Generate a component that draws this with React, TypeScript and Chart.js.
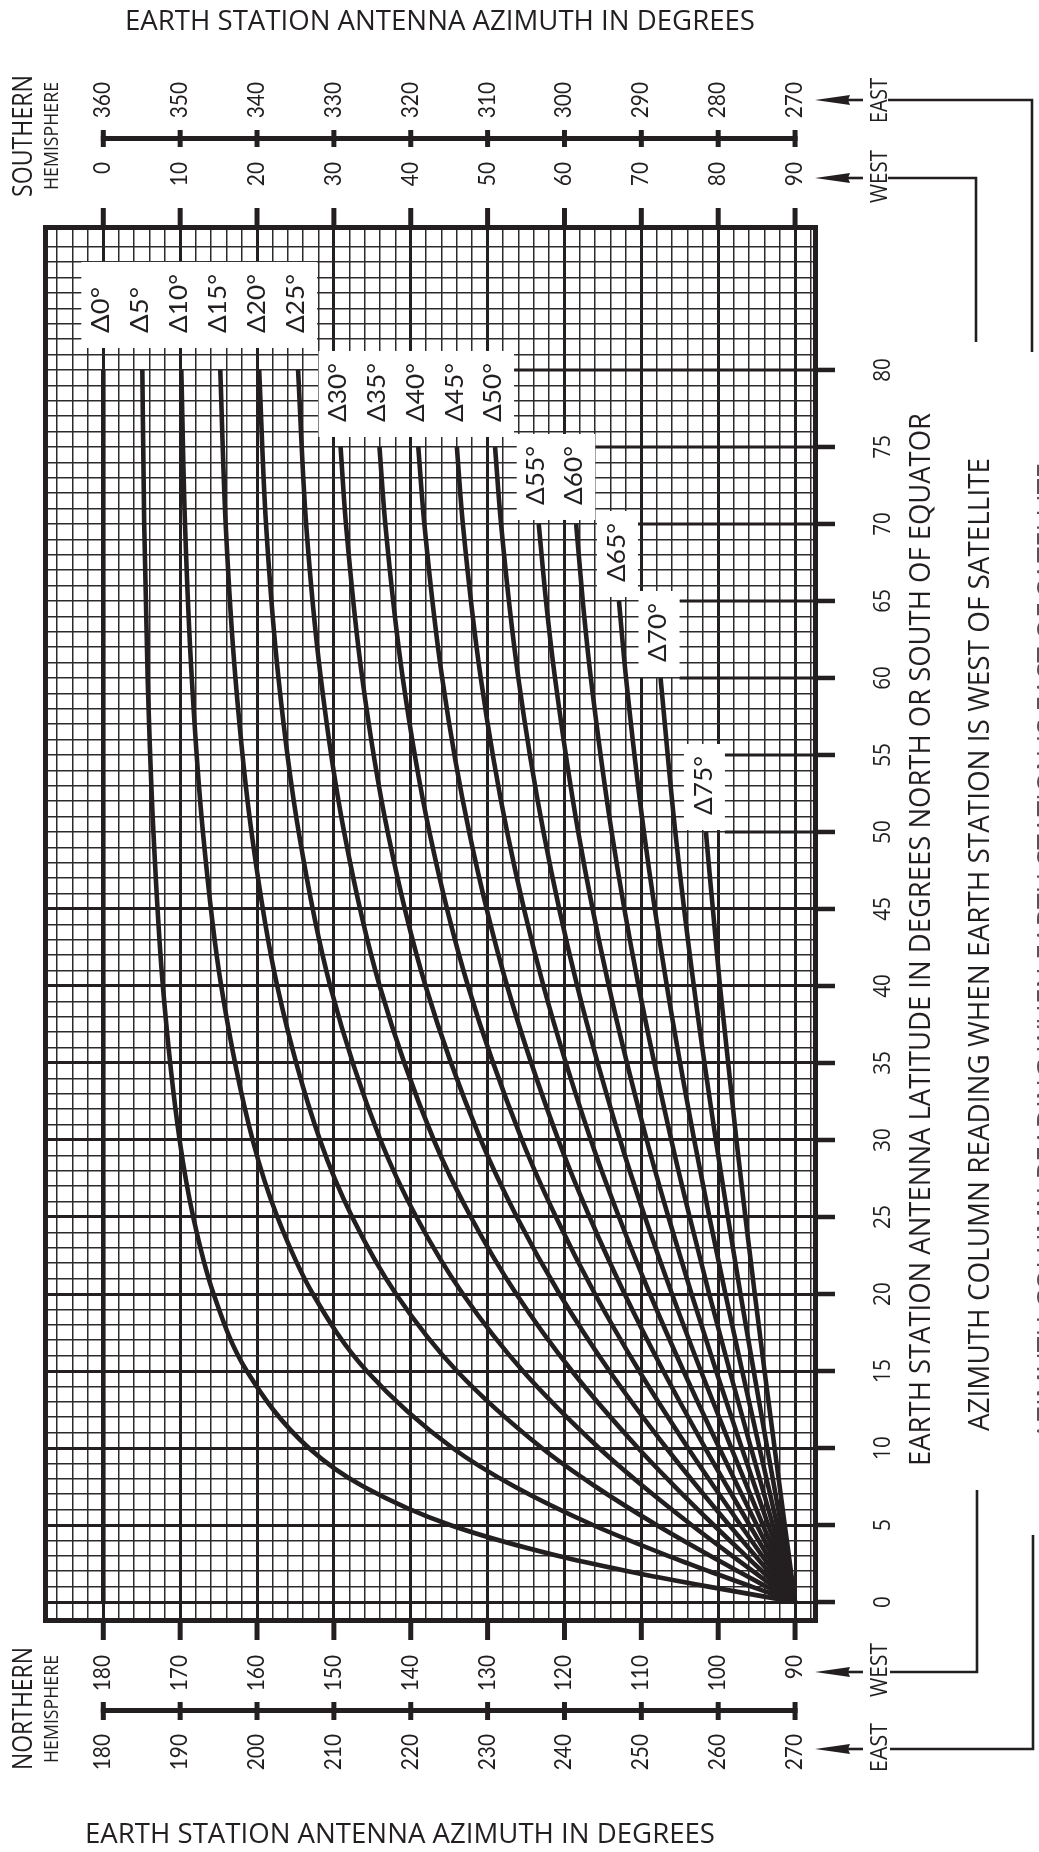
import { useEffect, useRef } from 'react';
import { Chart, registerables } from 'chart.js';

Chart.register(...registerables);

// ---------------- data ----------------
const LAT_D0 = [0, 80];
const LAT_80 = [0, 1, 2, 3, 5, 7.5, 10, 15, 20, 25, 30, 40, 50, 60, 70, 80];
const LAT_75 = [0, 1, 2, 3, 5, 7.5, 10, 15, 20, 25, 30, 40, 50, 60, 70, 75];
const LAT_70 = [0, 1, 2, 3, 5, 7.5, 10, 15, 20, 25, 30, 40, 50, 60, 65, 70];
const LAT_65 = [0, 1, 2, 3, 5, 7.5, 10, 15, 20, 25, 30, 40, 50, 60, 65];
const LAT_60 = [0, 1, 2, 3, 5, 7.5, 10, 15, 20, 25, 30, 40, 50, 60];
const LAT_50 = [0, 1, 2, 3, 5, 7.5, 10, 15, 20, 25, 30, 40, 50];

const AZ_D0 = [0, 0];
const AZ_D5 = [90, 78.72, 68.25, 59.11, 45.11, 33.83, 26.74, 18.67, 14.35, 11.7, 9.93, 7.75, 6.52, 5.77, 5.32, 5.08];
const AZ_D10 = [90, 84.35, 78.8, 73.47, 63.7, 53.49, 45.44, 34.27, 27.27, 22.65, 19.43, 15.34, 12.96, 11.51, 10.63, 10.15];
const AZ_D15 = [90, 86.27, 82.58, 78.95, 71.98, 64.03, 57.06, 46.0, 38.08, 32.38, 28.19, 22.63, 19.28, 17.19, 15.92, 15.22];
const AZ_D20 = [90, 87.25, 84.52, 81.82, 76.53, 70.27, 64.49, 54.59, 46.78, 40.73, 36.06, 29.52, 25.42, 22.79, 21.17, 20.28];
const AZ_D25 = [90, 87.86, 85.72, 83.6, 79.41, 74.36, 69.57, 60.97, 53.74, 47.82, 43.0, 35.96, 31.33, 28.3, 26.39, 25.34];
const AZ_D30 = [90, 88.27, 86.54, 84.82, 81.42, 77.26, 73.26, 65.85, 59.36, 53.8, 49.11, 41.93, 37.0, 33.69, 31.57, 30.87];
const AZ_D35 = [90, 88.57, 87.15, 85.73, 82.9, 79.44, 76.07, 69.72, 63.97, 58.89, 54.47, 47.45, 42.43, 38.96, 36.69, 35.93];
const AZ_D40 = [90, 88.81, 87.62, 86.43, 84.07, 81.16, 78.31, 72.86, 67.83, 63.27, 59.21, 52.54, 47.6, 44.09, 41.77, 40.98];
const AZ_D45 = [90, 89.0, 88.0, 87.0, 85.02, 82.56, 80.15, 75.49, 71.12, 67.09, 63.43, 57.27, 52.54, 49.11, 46.78, 46.0];
const AZ_D50 = [90, 89.16, 88.32, 87.49, 85.82, 83.75, 81.71, 77.75, 73.99, 70.47, 67.24, 61.66, 57.27, 54.0, 51.75, 50.97];
const AZ_D55 = [90, 89.3, 88.6, 87.9, 86.51, 84.78, 83.07, 79.73, 76.53, 73.52, 70.7, 65.77, 61.79, 58.77, 57.6, 56.65];
const AZ_D60 = [90, 89.42, 88.85, 88.27, 87.12, 85.69, 84.27, 81.5, 78.83, 76.29, 73.9, 69.64, 66.14, 63.43, 62.38, 61.52];
const AZ_D65 = [90, 89.53, 89.07, 88.6, 87.67, 86.52, 85.37, 83.12, 80.94, 78.85, 76.88, 73.32, 70.34, 68.01, 67.09];
const AZ_D70 = [90, 89.64, 89.27, 88.91, 88.18, 87.28, 86.38, 84.62, 82.9, 81.26, 79.69, 76.83, 74.42, 72.5];
const AZ_D75 = [90, 89.73, 89.46, 89.2, 88.66, 88.0, 87.34, 86.03, 84.76, 83.54, 82.37, 80.23, 78.4];

const SERIES = [
  { name: 'Δ0°', lat: LAT_D0, az: AZ_D0 },
  { name: 'Δ5°', lat: LAT_80, az: AZ_D5 },
  { name: 'Δ10°', lat: LAT_80, az: AZ_D10 },
  { name: 'Δ15°', lat: LAT_80, az: AZ_D15 },
  { name: 'Δ20°', lat: LAT_80, az: AZ_D20 },
  { name: 'Δ25°', lat: LAT_80, az: AZ_D25 },
  { name: 'Δ30°', lat: LAT_75, az: AZ_D30 },
  { name: 'Δ35°', lat: LAT_75, az: AZ_D35 },
  { name: 'Δ40°', lat: LAT_75, az: AZ_D40 },
  { name: 'Δ45°', lat: LAT_75, az: AZ_D45 },
  { name: 'Δ50°', lat: LAT_75, az: AZ_D50 },
  { name: 'Δ55°', lat: LAT_70, az: AZ_D55 },
  { name: 'Δ60°', lat: LAT_70, az: AZ_D60 },
  { name: 'Δ65°', lat: LAT_65, az: AZ_D65 },
  { name: 'Δ70°', lat: LAT_60, az: AZ_D70 },
  { name: 'Δ75°', lat: LAT_50, az: AZ_D75 },
];

const AZ_TICKS = [0, 10, 20, 30, 40, 50, 60, 70, 80, 90];
const TOP_OUTER = ['360', '350', '340', '330', '320', '310', '300', '290', '280', '270'];
const TOP_INNER = ['0', '10', '20', '30', '40', '50', '60', '70', '80', '90'];
const BOTTOM_INNER = ['180', '170', '160', '150', '140', '130', '120', '110', '100', '90'];
const BOTTOM_OUTER = ['180', '190', '200', '210', '220', '230', '240', '250', '260', '270'];
const LAT_TICKS = [0, 5, 10, 15, 20, 25, 30, 35, 40, 45, 50, 55, 60, 65, 70, 75, 80];

// ---------------- layout / style ----------------
const INK = '#231f20';
const MINOR = '#2c2a2b';
const SANS = "'Open Sans', 'DejaVu Sans', sans-serif";
const NUM = "Lato, 'Open Sans', sans-serif";
const X_MIN = -7.52;
const X_MAX = 92.66;
const Y_MIN = -1.2;
const Y_MAX = 89.25;
const X_GRID: number[] = [];
for (let v = -6; v <= 92; v += 2) X_GRID.push(v);
const Y_GRID: number[] = [];
for (let v = 0; v <= 88; v += 1) Y_GRID.push(v);
const LABEL_GAP = [37, 37, 37, 37, 37, 37, 25, 25, 25, 25, 25, 19, 19, 19, 16, 17];

function vtext(
  ctx: CanvasRenderingContext2D,
  text: string,
  cx: number,
  y: number,
  align: CanvasTextAlign,
  capH: number,
  family: string,
  opts: { len?: number; sx?: number; color?: string } = {}
) {
  ctx.save();
  ctx.font = `${(capH / 0.72).toFixed(2)}px ${family}`;
  ctx.fillStyle = opts.color || INK;
  ctx.translate(cx + capH / 2, y);
  ctx.rotate(-Math.PI / 2);
  if (opts.len) {
    const w = ctx.measureText(text).width;
    ctx.scale(opts.len / w, 1);
  } else if (opts.sx) {
    ctx.scale(opts.sx, 1);
  }
  ctx.textAlign = align;
  ctx.textBaseline = 'alphabetic';
  ctx.fillText(text, 0, 0);
  ctx.restore();
}

function htext(ctx: CanvasRenderingContext2D, text: string, x: number, base: number, capH: number, family: string, len: number) {
  ctx.save();
  ctx.font = `${(capH / 0.72).toFixed(2)}px ${family}`;
  ctx.fillStyle = INK;
  ctx.translate(x, base);
  const w = ctx.measureText(text).width;
  ctx.scale(len / w, 1);
  ctx.textAlign = 'left';
  ctx.textBaseline = 'alphabetic';
  ctx.fillText(text, 0, 0);
  ctx.restore();
}

function seg(ctx: CanvasRenderingContext2D, x0: number, y0: number, x1: number, y1: number, w: number) {
  ctx.lineWidth = w;
  ctx.beginPath();
  ctx.moveTo(x0, y0);
  ctx.lineTo(x1, y1);
  ctx.stroke();
}

function arrow(ctx: CanvasRenderingContext2D, y: number) {
  ctx.beginPath();
  ctx.moveTo(815, y);
  ctx.lineTo(850, y - 5);
  ctx.lineTo(848, y);
  ctx.lineTo(850, y + 5);
  ctx.closePath();
  ctx.fill();
  seg(ctx, 846, y, 863, y, 2.6);
}

function labelBoxes(chart: any) {
  const xs = chart.scales.x;
  const ys = chart.scales.y;
  return SERIES.map((s, i) => {
    const n = s.lat.length - 1;
    const cx = xs.getPixelForValue(s.az[n]) - 3;
    const tb = ys.getPixelForValue(s.lat[n]) - LABEL_GAP[i];
    const digits = s.name.length - 2;
    return {
      text: s.name,
      cx,
      tb,
      len: 46 + 13 * (digits - 1),
      x0: cx - 19,
      x1: cx + 22,
      y0: tb - 71,
      y1: tb + 15,
    };
  });
}

const decor = {
  id: 'decor',
  beforeDatasetsDraw(chart: any) {
    const { ctx, chartArea: a } = chart;
    const ys = chart.scales.y;
    const boxes = labelBoxes(chart);
    ctx.save();
    ctx.strokeStyle = INK;
    for (const lat of LAT_TICKS) {
      if (lat < 50) continue;
      const y = ys.getPixelForValue(lat);
      let x0 = a.left;
      for (const b of boxes) if (y >= b.y0 - 4 && y <= b.y1 + 4) x0 = Math.max(x0, b.x1);
      seg(ctx, x0, y, a.right, y, 3);
    }
    ctx.fillStyle = '#ffffff';
    for (const b of boxes) ctx.fillRect(b.x0, b.y0, b.x1 - b.x0, b.y1 - b.y0);
    for (const b of boxes) vtext(ctx, b.text, b.cx, b.tb, 'left', 17.5, NUM, { len: b.len });
    ctx.lineWidth = 5;
    ctx.strokeRect(a.left, a.top, a.right - a.left, a.bottom - a.top);
    ctx.restore();
  },
  afterDraw(chart: any) {
    const { ctx, chartArea: a } = chart;
    const xs = chart.scales.x;
    const ys = chart.scales.y;
    ctx.save();
    ctx.strokeStyle = INK;
    ctx.fillStyle = INK;
    ctx.lineCap = 'butt';
    const p0 = xs.getPixelForValue(0);
    const p90 = xs.getPixelForValue(90);
    // outer azimuth rulers
    seg(ctx, p0 - 2.5, 138.5, p90 + 2.5, 138.5, 5);
    seg(ctx, p0 - 2.5, 1710.5, p90 + 2.5, 1710.5, 5);
    AZ_TICKS.forEach((v, i) => {
      const x = xs.getPixelForValue(v);
      seg(ctx, x, 130, x, 147, 5);
      seg(ctx, x, 1702, x, 1720, 5);
      seg(ctx, x, 208, x, a.top, 5);
      seg(ctx, x, a.bottom, x, 1640, 5);
      vtext(ctx, TOP_OUTER[i], x - 1, 82, 'right', 16, NUM, { sx: 0.94 });
      vtext(ctx, TOP_INNER[i], x - 1, 162, 'right', 16, NUM, { sx: 0.94 });
      vtext(ctx, BOTTOM_INNER[i], x - 1, 1655, 'right', 16, NUM, { sx: 0.94 });
      vtext(ctx, BOTTOM_OUTER[i], x - 1, 1734, 'right', 16, NUM, { sx: 0.94 });
    });
    // latitude ticks and labels
    LAT_TICKS.forEach((lat) => {
      const y = ys.getPixelForValue(lat);
      seg(ctx, a.right, y, 835, y, 4.5);
      vtext(ctx, String(lat), 881, y, 'center', 17, SANS, { sx: 0.88 });
    });
    // titles
    htext(ctx, 'EARTH STATION ANTENNA AZIMUTH IN DEGREES', 125, 30, 20, SANS, 630);
    htext(ctx, 'EARTH STATION ANTENNA AZIMUTH IN DEGREES', 85, 1843, 20, SANS, 630);
    vtext(ctx, 'EARTH STATION ANTENNA LATITUDE IN DEGREES NORTH OR SOUTH OF EQUATOR', 920, 413, 'right', 20.5, SANS, { len: 1053 });
    vtext(ctx, 'AZIMUTH COLUMN READING WHEN EARTH STATION IS WEST OF SATELLITE', 978.5, 458, 'right', 21, SANS, { len: 973 });
    vtext(ctx, 'AZIMUTH COLUMN READING WHEN EARTH STATION IS EAST OF SATELLITE', 1047, 463, 'right', 21, SANS, { len: 977, color: '#555' });
    // hemispheres
    vtext(ctx, 'SOUTHERN', 22.5, 197, 'left', 19, SANS, { len: 122 });
    vtext(ctx, 'HEMISPHERE', 50.5, 190, 'left', 15, SANS, { len: 108 });
    vtext(ctx, 'NORTHERN', 22.5, 1770, 'left', 19, SANS, { len: 123 });
    vtext(ctx, 'HEMISPHERE', 50.5, 1763, 'left', 15, SANS, { len: 108 });
    // east / west
    vtext(ctx, 'EAST', 878.5, 123, 'left', 17, SANS, { len: 45 });
    vtext(ctx, 'WEST', 878.5, 203, 'left', 17, SANS, { len: 53 });
    vtext(ctx, 'WEST', 878.5, 1697, 'left', 17, SANS, { len: 54 });
    vtext(ctx, 'EAST', 878.5, 1772, 'left', 17, SANS, { len: 49 });
    arrow(ctx, 100);
    arrow(ctx, 178);
    arrow(ctx, 1672);
    arrow(ctx, 1749);
    ctx.lineJoin = 'miter';
    ctx.lineWidth = 2.6;
    ctx.beginPath();
    ctx.moveTo(888, 100); ctx.lineTo(1032, 100); ctx.lineTo(1032, 352);
    ctx.moveTo(888, 178); ctx.lineTo(976, 178); ctx.lineTo(976, 342);
    ctx.moveTo(890, 1672); ctx.lineTo(977, 1672); ctx.lineTo(977, 1490);
    ctx.moveTo(890, 1749); ctx.lineTo(1033, 1749); ctx.lineTo(1033, 1535);
    ctx.stroke();
    ctx.restore();
  },
};

export default function App() {
  const ref = useRef<HTMLCanvasElement>(null);
  useEffect(() => {
    document.body.style.margin = '0';
    const canvas = ref.current;
    if (!canvas) return;
    const datasets = SERIES.map((s) => ({
      label: s.name,
      data: s.lat.map((la, i) => ({ x: s.az[i], y: la })),
      indexAxis: 'y',
      borderColor: INK,
      backgroundColor: INK,
      borderWidth: 4.6,
      pointRadius: 0,
      fill: false,
      cubicInterpolationMode: 'monotone',
      borderCapStyle: 'butt',
      borderJoinStyle: 'round',
    }));
    const chart = new Chart(canvas, {
      type: 'line',
      data: { datasets: datasets as any },
      options: {
        animation: false,
        responsive: false,
        devicePixelRatio: 1,
        indexAxis: 'y',
        events: [],
        layout: { padding: { left: 45.5, top: 227.5, right: 223.5, bottom: 231.5 } },
        plugins: { legend: { display: false }, tooltip: { enabled: false }, title: { display: false } },
        scales: {
          x: {
            type: 'linear',
            min: X_MIN,
            max: X_MAX,
            afterBuildTicks: (s: any) => {
              s.ticks = X_GRID.map((v) => ({ value: v }));
            },
            ticks: { display: false, autoSkip: false },
            border: { display: false },
            grid: {
              drawTicks: false,
              lineWidth: (c: any) => {
                const v = c.tick ? c.tick.value : 1;
                return v % 10 === 0 && v >= 0 && v <= 90 ? 3 : 1.5;
              },
              color: (c: any) => {
                const v = c.tick ? c.tick.value : 1;
                return v % 10 === 0 && v >= 0 && v <= 90 ? INK : MINOR;
              },
            },
          },
          y: {
            type: 'linear',
            min: Y_MIN,
            max: Y_MAX,
            afterBuildTicks: (s: any) => {
              s.ticks = Y_GRID.map((v) => ({ value: v }));
            },
            ticks: { display: false, autoSkip: false },
            border: { display: false },
            grid: {
              drawTicks: false,
              lineWidth: (c: any) => {
                const v = c.tick ? c.tick.value : 1;
                return v % 5 === 0 && v <= 45 ? 3 : 1.5;
              },
              color: (c: any) => {
                const v = c.tick ? c.tick.value : 1;
                return v % 5 === 0 && v <= 45 ? INK : MINOR;
              },
            },
          },
        },
      },
      plugins: [decor],
    } as any);
    return () => chart.destroy();
  }, []);
  return (
    <div style={{ position: 'absolute', left: 0, top: 0, width: 1039, height: 1852, background: '#fff' }}>
      <canvas ref={ref} width={1039} height={1852} style={{ display: 'block', width: 1039, height: 1852 }} />
    </div>
  );
}
